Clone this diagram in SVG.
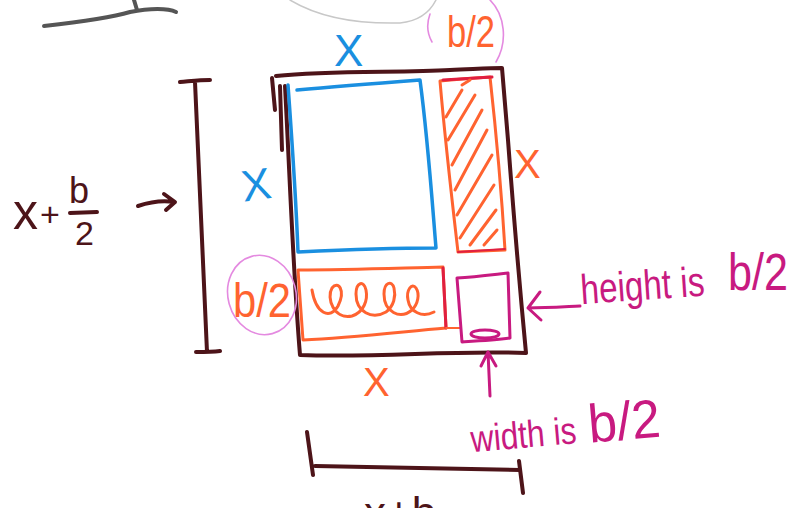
<svg xmlns="http://www.w3.org/2000/svg" width="801" height="508" viewBox="0 0 801 508">
<style>
.s{fill:none;stroke-linecap:round;stroke-linejoin:round}
.br{stroke:#4d1419;stroke-width:4}
.bl{stroke:#1a8fe0;stroke-width:3.5}
.or{stroke:#ff6330;stroke-width:3}
.mg{stroke:#c81a80;stroke-width:3}
.pk{stroke:#e48ae0;stroke-width:1.6}
.t{font-family:"Liberation Sans",Arial,sans-serif}
.tbr{fill:#4d1419}
.tbl{fill:#1a8fe0}
.tor{fill:#ff6330}
.tmg{fill:#c81a80}
</style>
<rect width="801" height="508" fill="#ffffff"/>
<g id="scribbles">
<path class="s" d="M44,26 C80,22 110,18 130,12 C150,8 168,8 176,12" stroke="#555" stroke-width="4"/>
<path class="s" d="M134,0 L137,10" stroke="#555" stroke-width="4"/>
<path class="s" d="M290,0 C320,18 360,24 400,23 C420,21 430,12 436,0" stroke="#c8c8c8" stroke-width="1.5"/>
</g>
<g id="frame">
<path class="s br" d="M276,76 C330,70 400,73 450,70 C475,69 490,68 502,68 L508,140 C514,220 520,290 526,353 C450,350 380,358 300,355 C293,270 290,180 285,86"/>
<path class="s br" d="M272,78 L275,110 M280,86 L282,150"/>
</g>
<g id="blue-square">
<path class="s bl" d="M297,90 C340,86 380,83 420,80 C428,140 432,200 436,248 C390,248 340,250 298,252 C296,200 292,140 288,85"/>
</g>
<g id="hatched-rect">
<path class="s or" d="M440,81 C460,79 475,78 490,77 C497,140 502,200 505,250 L458,252 C452,200 445,140 440,81 Z"/>
<path class="s" d="M443,80 L492,77" stroke="#e01f40" stroke-width="3"/>
<path class="s" d="M458,252 L505,249" stroke="#e01f40" stroke-width="2"/>
<path class="s or" stroke-width="2" d="M446,117 L462,90 M448,140 L475,95 M452,165 L482,110 M455,190 L487,130 M457,215 L492,155 M460,238 L494,185 M470,245 L496,210 M484,245 L497,230 M462,85 L470,80"/>
</g>
<g id="spring-rect">
<path class="s or" d="M298,270 C350,270 400,268 443,267 L446,328 C400,332 350,338 303,340 Z"/>
<path class="s" d="M443,268 L446,328" stroke="#e01f40" stroke-width="3"/>
<path class="s" d="M446,328 L460,328" stroke="#ff6330" stroke-width="2"/>
<path class="s or" stroke-width="2.4" d="M312,290 C316,314 330,320 338,306 C346,290 338,280 332,288 C326,298 334,320 352,316 C364,312 368,300 366,290 C364,280 356,282 356,294 C356,312 372,320 386,312 C394,306 396,296 394,288 C392,280 384,282 384,294 C384,312 400,320 412,310 C418,304 420,294 416,288 C412,282 406,290 408,300 C410,312 422,318 434,312"/>
</g>
<g id="small-square">
<path class="s mg" stroke-width="3.5" d="M457,278 C475,277 490,275 508,273 L510,338 C495,340 478,341 462,342 Z"/>
<ellipse cx="485" cy="334" rx="14" ry="4" fill="none" stroke="#c81a80" stroke-width="3"/>
</g>
<g id="left-dimension">
<path class="s br" d="M180,82 C192,81 200,80 210,80 M195,82 C199,170 203,260 207,352 M196,352 C204,352 212,352 220,351"/>
<text class="t tbr" x="13" y="229" font-size="50">x</text>
<text class="t tbr" x="40" y="226" font-size="34">+</text>
<text class="t tbr" x="69" y="203" font-size="36">b</text>
<path class="s br" stroke-width="3.5" d="M70,213 L97,212"/>
<text class="t tbr" x="75" y="245" font-size="34">2</text>
<path class="s br" stroke-width="4" d="M138,206 C150,202 162,200 174,202 M164,194 L175,202 L166,210"/>
</g>
<g id="bottom-dimension">
<path class="s br" d="M307,432 L313,475 M315,466 C380,467 450,468 520,470 M519,461 L523,493"/>
<text class="t tbr" x="364" y="528" font-size="44">x+b</text>
</g>
<g id="labels">
<text class="t tbl" x="334" y="66" font-size="44">X</text>
<text class="t tbl" x="241" y="200" font-size="44" transform="rotate(-8 255 182)">X</text>
<text class="t tor" x="514" y="178" font-size="40">X</text>
<text class="t tor" x="363" y="396" font-size="40">X</text>
<text class="t tor" x="447" y="47" font-size="44" textLength="48" lengthAdjust="spacingAndGlyphs">b/2</text>
<path class="s pk" d="M430,14 C426,25 428,35 432,42 M490,0 C505,15 508,42 496,62"/>
<text class="t tor" x="233" y="317" font-size="48" textLength="58" lengthAdjust="spacingAndGlyphs">b/2</text>
<ellipse class="s pk" cx="262" cy="295" rx="34" ry="40" transform="rotate(-15 262 295)"/>
</g>
<g id="annotations">
<text class="t tmg" x="580" y="300" font-size="42" textLength="124" lengthAdjust="spacingAndGlyphs" transform="rotate(-4 640 280)">height is</text>
<text class="t tmg" x="728" y="290" font-size="52" textLength="60" lengthAdjust="spacingAndGlyphs">b/2</text>
<path class="s mg" stroke-width="3" d="M580,306 C560,307 545,308 528,308 M540,292 L528,308 L541,320"/>
<path class="s mg" stroke-width="3" d="M490,396 L488,352 M481,366 L488,352 L496,366"/>
<text class="t tmg" x="470" y="448" font-size="38" textLength="106" lengthAdjust="spacingAndGlyphs" transform="rotate(-5 520 430)">width is</text>
<text class="t tmg" x="588" y="440" font-size="54" textLength="72" lengthAdjust="spacingAndGlyphs" transform="rotate(-5 620 420)">b/2</text>
</g>
</svg>
